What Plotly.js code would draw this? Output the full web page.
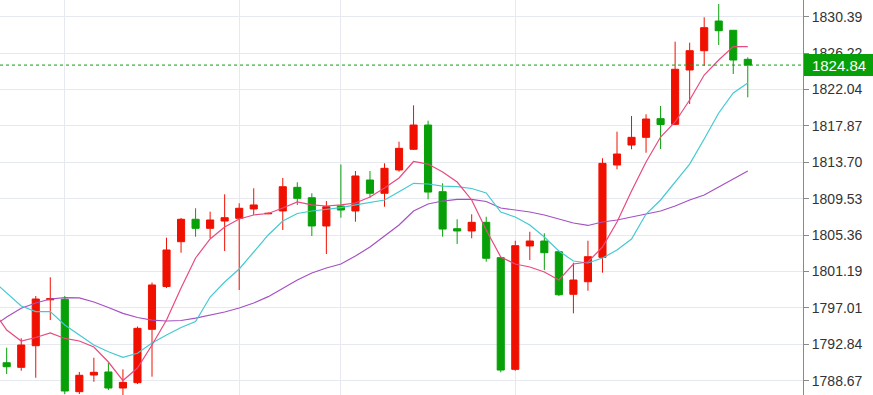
<!DOCTYPE html>
<html>
<head>
<meta charset="utf-8">
<script src="https://cdn.plot.ly/plotly-3.0.1.min.js"></script>
<style>html,body{margin:0;padding:0;background:#fff;}#chart{width:873px;height:395px;}</style>
</head>
<body>
<div id="chart"></div>
<script>
// Candle data (oldest to newest)
const opens  = [1790.73,1790.20,1792.68,1797.94,1798.00,1787.41,1789.32,1789.67,1787.83,1788.44,
                1794.56,1799.46,1804.60,1807.17,1806.13,1806.97,1807.28,1808.35,1807.80,1808.12,
                1810.83,1809.64,1806.40,1808.69,1808.12,1811.67,1810.15,1812.82,1815.19,1817.97,
                1810.33,1806.09,1805.83,1806.82,1802.77,1789.97,1804.11,1804.68,1803.45,1798.57,
                1800.01,1802.81,1813.39,1815.68,1816.56,1818.70,1818.05,1824.28,1826.49,1829.89,
                1828.83,1825.50];
const highs  = [1792.45,1793.53,1798.38,1800.52,1798.38,1789.67,1791.30,1790.73,1789.97,1794.88,
                1799.92,1805.06,1807.32,1808.43,1808.04,1810.03,1809.00,1810.72,1807.95,1811.90,
                1811.41,1810.15,1809.26,1813.45,1812.70,1812.70,1813.58,1816.06,1820.23,1818.47,
                1811.29,1807.17,1807.74,1807.46,1802.85,1804.71,1805.74,1805.56,1803.57,1802.19,
                1804.71,1814.16,1817.21,1819.01,1819.20,1820.15,1827.52,1827.41,1830.32,1831.84,
                1828.86,1825.73];
const lows   = [1789.44,1789.81,1789.01,1795.62,1787.14,1787.14,1788.55,1787.60,1786.90,1788.29,
                1789.13,1799.29,1803.34,1805.17,1804.99,1803.53,1799.06,1807.66,1807.75,1805.94,
                1808.81,1805.25,1803.19,1807.35,1806.89,1809.64,1808.61,1812.62,1815.11,1809.46,
                1805.17,1804.34,1804.99,1802.31,1789.63,1789.81,1802.50,1801.36,1798.38,1796.39,
                1798.98,1801.05,1812.90,1815.19,1814.80,1815.22,1817.97,1820.38,1824.74,1827.14,
                1823.82,1821.15];
const closes = [1790.27,1792.76,1798.03,1798.09,1787.49,1789.29,1789.63,1787.83,1788.48,1794.67,
                1799.64,1803.65,1807.17,1806.13,1807.09,1807.35,1808.43,1808.81,1807.85,1810.90,
                1809.57,1806.40,1808.61,1808.23,1812.13,1810.15,1813.01,1815.30,1817.97,1810.29,
                1806.05,1805.83,1806.82,1802.70,1789.89,1804.14,1804.68,1803.34,1798.52,1800.21,
                1802.88,1813.58,1814.65,1816.56,1818.66,1818.03,1824.36,1826.49,1829.13,1828.78,
                1825.42,1824.84];

// Moving averages, first point is one bar before the first visible candle
const maFast = [1796.89,1794.48,1793.22,1793.62,1794.14,1793.51,1793.22,1792.53,1790.81,1788.69,1790.12,
                1792.76,1795.62,1799.29,1802.73,1804.91,1806.28,1807.20,1807.66,1807.83,1808.46,
                1809.15,1808.81,1808.69,1808.81,1809.03,1809.72,1810.75,1811.90,1813.79,1813.50,
                1812.59,1811.44,1809.38,1805.94,1802.85,1802.04,1801.70,1801.13,1800.21,1802.04,
                1802.27,1803.99,1806.86,1810.41,1813.73,1816.60,1818.32,1820.84,1823.70,1825.42,
                1826.95,1826.95];
const maMid  = [1800.21,1798.72,1797.23,1796.58,1796.58,1795.05,1793.91,1792.76,1791.99,1791.35,1791.81,
                1792.99,1793.91,1794.77,1795.45,1798.26,1799.98,1801.47,1803.42,1805.37,1806.97,
                1807.83,1808.12,1808.29,1808.50,1808.81,1809.07,1809.38,1810.33,1811.29,1811.21,
                1810.98,1810.90,1810.70,1810.18,1808.00,1807.43,1806.51,1805.14,1803.53,1802.39,
                1802.16,1802.73,1803.65,1804.91,1807.77,1809.38,1811.44,1813.50,1816.37,1819.35,
                1821.64,1822.79];
const maSlow = [1794.82,1795.97,1796.97,1797.57,1798.03,1798.18,1798.15,1797.69,1797.06,1796.39,1795.91,
                1795.62,1795.51,1795.57,1795.85,1796.20,1796.54,1797.00,1797.57,1798.30,1799.26,
                1800.21,1801.01,1801.59,1802.04,1802.96,1803.99,1805.20,1806.51,1808.12,1808.92,
                1809.26,1809.44,1809.46,1809.21,1808.46,1808.23,1808.00,1807.66,1807.20,1806.74,
                1806.46,1806.86,1807.09,1807.43,1807.77,1808.12,1808.69,1809.38,1809.95,1810.87,
                1811.73,1812.70];

const priceTicks = [1788.67,1792.84,1797.01,1801.19,1805.36,1809.53,1813.70,1817.87,1822.04,1826.22,1830.39];
const sessionBars = [4,16,23,35];
const lastPrice = 1824.84;

const candleX = opens.map((_, i) => i);
const maX = maFast.map((_, i) => i - 1);

const RED = 'rgb(240,16,0)';
const GREEN = 'rgb(8,160,8)';

const traces = [
  {
    type: 'candlestick', x: candleX, open: opens, high: highs, low: lows, close: closes,
    increasing: {line: {color: RED, width: 1}, fillcolor: RED},
    decreasing: {line: {color: GREEN, width: 1}, fillcolor: GREEN},
    whiskerwidth: 0, hoverinfo: 'none'
  },
  {type: 'scatter', mode: 'lines', x: maX, y: maSlow, line: {color: '#a451c4', width: 1.2}, hoverinfo: 'none'},
  {type: 'scatter', mode: 'lines', x: maX, y: maMid, line: {color: '#45c9d2', width: 1.2}, hoverinfo: 'none'},
  {type: 'scatter', mode: 'lines', x: maX, y: maFast, line: {color: '#e84a7f', width: 1.2}, hoverinfo: 'none'}
];

const layout = {
  width: 873, height: 395,
  margin: {l: 0, r: 70, t: 0, b: 0, pad: 0},
  paper_bgcolor: '#ffffff', plot_bgcolor: '#ffffff',
  showlegend: false,
  boxgap: 0.3,
  xaxis: {
    range: [-0.46, 54.8], showticklabels: false, tickvals: sessionBars,
    showgrid: true, gridcolor: '#e6eaf0', gridwidth: 1, zeroline: false,
    rangeslider: {visible: false}, fixedrange: true, showline: false, ticks: ''
  },
  yaxis: {
    side: 'right', range: [1787.03, 1832.30],
    tickvals: priceTicks, ticktext: priceTicks.map(v => v.toFixed(2)),
    showgrid: true, gridcolor: '#e6eaf0', gridwidth: 1, zeroline: false,
    showline: true, linecolor: '#8a8a8a', linewidth: 1,
    ticks: 'outside', ticklen: 5, tickcolor: '#8a8a8a',
    tickfont: {family: 'Liberation Sans, Arial, sans-serif', size: 14, color: '#333333'},
    fixedrange: true
  },
  shapes: [
    {type: 'line', xref: 'paper', x0: 0, x1: 1, yref: 'y', y0: lastPrice, y1: lastPrice,
     line: {color: GREEN, width: 1, dash: 'dot'}}
  ],
  annotations: [
    {xref: 'paper', x: 1, xanchor: 'left', xshift: 1, yref: 'y', y: lastPrice, yanchor: 'middle',
     text: lastPrice.toFixed(2), showarrow: false, align: 'center',
     font: {family: 'Liberation Sans, Arial, sans-serif', size: 15, color: '#ffffff'},
     bgcolor: GREEN, bordercolor: GREEN, borderwidth: 1, borderpad: 1, width: 66, height: 18}
  ]
};

Plotly.newPlot('chart', traces, layout, {staticPlot: true, displayModeBar: false});
</script>
</body>
</html>
